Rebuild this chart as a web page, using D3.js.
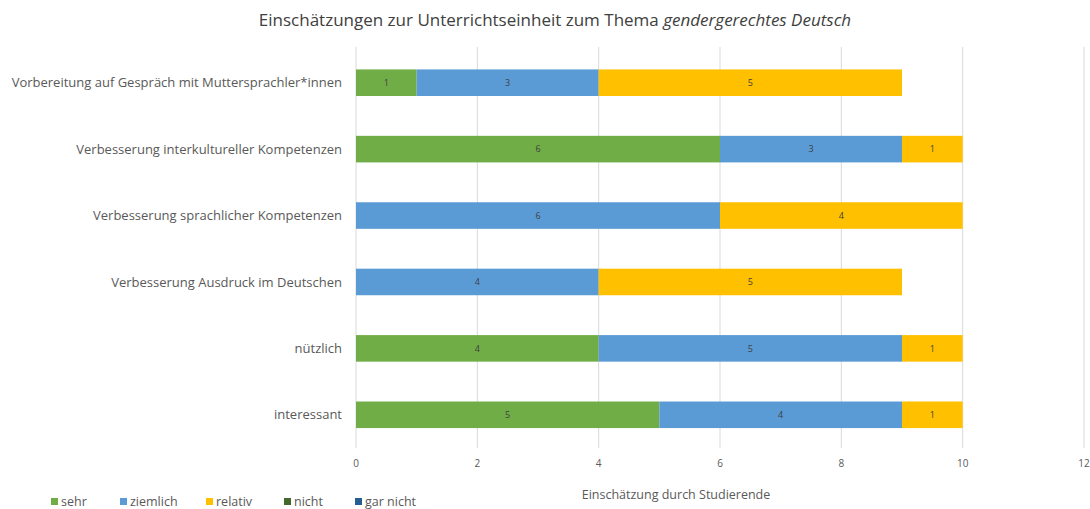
<!DOCTYPE html>
<html>
<head>
<meta charset="utf-8">
<script src="https://cdn.jsdelivr.net/npm/d3@7"></script>
<style>
  body { margin: 0; background: #fff; }
  svg { font-family: "Open Sans", "Noto Sans", sans-serif; }
</style>
</head>
<body>
<svg id="chart"></svg>
<script>
const width = 1090, height = 509;

// data
const categories = [
  "Vorbereitung auf Gespräch mit Muttersprachler*innen",
  "Verbesserung interkultureller Kompetenzen",
  "Verbesserung sprachlicher Kompetenzen",
  "Verbesserung Ausdruck im Deutschen",
  "nützlich",
  "interessant"
];
const seriesNames = ["sehr", "ziemlich", "relativ", "nicht", "gar nicht"];
const sehr     = [1, 6, 0, 0, 4, 5];
const ziemlich = [3, 3, 6, 4, 5, 4];
const relativ  = [5, 1, 4, 5, 1, 1];
const nicht    = [0, 0, 0, 0, 0, 0];
const garNicht = [0, 0, 0, 0, 0, 0];
const xTicks = [0, 2, 4, 6, 8, 10, 12];

const colors = d3.scaleOrdinal()
    .domain(seriesNames)
    .range(["#70AD47", "#5B9BD5", "#FFC000", "#43682B", "#255E91"]);

const margin = {top: 47, right: 6, bottom: 61, left: 356};

let svg = d3.select('#chart')
    .attr('width', width)
    .attr('height', height);

// build table for stack
const table = categories.map((c, i) => ({
    cat: c,
    "sehr": sehr[i],
    "ziemlich": ziemlich[i],
    "relativ": relativ[i],
    "nicht": nicht[i],
    "gar nicht": garNicht[i]
}));
const stacked = d3.stack().keys(seriesNames)(table);

const x = d3.scaleLinear()
    .domain([0, 12])
    .range([margin.left, width - margin.right]);
const y = d3.scaleBand()
    .domain(categories)
    .range([margin.top + 2.5, height - margin.bottom])
    .paddingInner(0.6)
    .paddingOuter(0.3);

// gridlines
svg.append("g")
    .selectAll("line")
    .data(xTicks)
    .join("line")
    .attr("x1", d => x(d)).attr("x2", d => x(d))
    .attr("y1", margin.top).attr("y2", height - margin.bottom)
    .attr("stroke", "#d9d9d9")
    .attr("stroke-width", 1);

// x tick labels
svg.append("g")
    .selectAll("text")
    .data(xTicks)
    .join("text")
    .attr("x", d => x(d))
    .attr("y", 467)
    .attr("text-anchor", "middle")
    .style("font-size", "10px")
    .style("fill", "#595959")
    .text(d => d);

// bars
let layers = svg.append("g")
    .selectAll("g")
    .data(stacked)
    .join("g")
    .attr("fill", d => colors(d.key));

layers.selectAll("rect")
    .data(d => d.map(v => ({v: v, key: d.key})))
    .join("rect")
    .attr("x", d => x(d.v[0]))
    .attr("y", d => y(d.v.data.cat))
    .attr("width", d => x(d.v[1]) - x(d.v[0]))
    .attr("height", y.bandwidth());

// value labels
layers.selectAll("text")
    .data(d => d.filter(v => v[1] - v[0] > 0))
    .join("text")
    .attr("x", d => (x(d[0]) + x(d[1])) / 2)
    .attr("y", d => y(d.data.cat) + y.bandwidth() / 2)
    .attr("dy", "0.35em")
    .attr("text-anchor", "middle")
    .style("font-size", "9px")
    .style("fill", "#404040")
    .text(d => d[1] - d[0]);

// category labels
svg.append("g")
    .selectAll("text")
    .data(categories)
    .join("text")
    .attr("x", 342)
    .attr("y", d => y(d) + y.bandwidth() / 2)
    .attr("dy", "0.35em")
    .attr("text-anchor", "end")
    .style("font-size", "13px")
    .style("fill", "#595959")
    .text(d => d);

// title
let title = svg.append("text")
    .attr("x", 555)
    .attr("y", 26)
    .attr("text-anchor", "middle")
    .style("font-size", "17px")
    .style("fill", "#404040");
title.append("tspan").text("Einschätzungen zur Unterrichtseinheit zum Thema ");
title.append("tspan").style("font-style", "italic").text("gendergerechtes Deutsch");

// axis title
svg.append("text")
    .attr("x", 676)
    .attr("y", 499)
    .attr("text-anchor", "middle")
    .style("font-size", "12.5px")
    .style("fill", "#595959")
    .text("Einschätzung durch Studierende");

// legend
const legendX = [51, 120, 206, 284, 355];
let legend = svg.append("g")
    .selectAll("g")
    .data(seriesNames)
    .join("g")
    .attr("transform", (d, i) => `translate(${legendX[i]},${506})`);
legend.append("rect")
    .attr("x", 0).attr("y", -8)
    .attr("width", 7).attr("height", 7)
    .attr("fill", d => colors(d));
legend.append("text")
    .attr("x", 10).attr("y", 0)
    .style("font-size", "12.5px")
    .style("fill", "#595959")
    .text(d => d);
</script>
</body>
</html>
